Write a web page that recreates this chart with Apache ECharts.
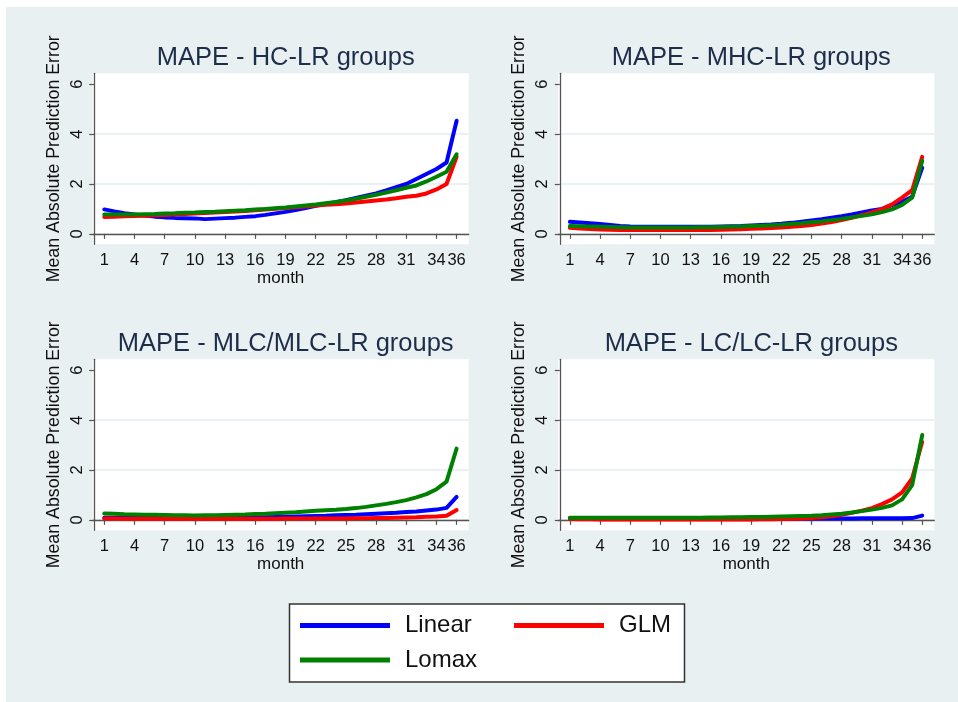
<!DOCTYPE html>
<html>
<head>
<meta charset="utf-8">
<script src="https://cdn.jsdelivr.net/npm/echarts@6/dist/echarts.min.js"></script>
<style>html,body{margin:0;padding:0;background:#fff;}#c{width:958px;height:702px;}</style>
</head>
<body>
<div id="c"></div>
<script>
var months = [1,2,3,4,5,6,7,8,9,10,11,12,13,14,15,16,17,18,19,20,21,22,23,24,25,26,27,28,29,30,31,32,33,34,35,36];
var xTickLabels = [1,4,7,10,13,16,19,22,25,28,31,34,36];
var yTickLabels = [0,2,4,6];
var yGridValues = [0,2,4];
var panelTitles = ['MAPE - HC-LR groups','MAPE - MHC-LR groups','MAPE - MLC/MLC-LR groups','MAPE - LC/LC-LR groups'];
var seriesNames = ['Linear','GLM','Lomax'];

var hcLinear = [0.98,0.90,0.83,0.78,0.73,0.69,0.66,0.64,0.63,0.62,0.59,0.61,0.63,0.65,0.68,0.71,0.76,0.82,0.88,0.95,1.03,1.12,1.20,1.27,1.35,1.44,1.53,1.62,1.74,1.87,2.00,2.20,2.40,2.60,2.86,4.54];
var hcGLM    = [0.68,0.69,0.71,0.72,0.73,0.75,0.76,0.78,0.80,0.82,0.84,0.86,0.88,0.90,0.92,0.95,0.98,1.01,1.04,1.07,1.10,1.14,1.17,1.19,1.22,1.26,1.30,1.34,1.38,1.43,1.49,1.53,1.62,1.78,2.00,3.09];
var hcLomax  = [0.78,0.78,0.78,0.78,0.79,0.80,0.82,0.83,0.85,0.86,0.88,0.89,0.91,0.93,0.95,0.98,1.00,1.03,1.06,1.10,1.14,1.18,1.23,1.28,1.34,1.41,1.49,1.57,1.66,1.75,1.85,1.94,2.10,2.29,2.49,3.19];

var mhcLinear = [0.48,0.45,0.42,0.39,0.35,0.31,0.29,0.28,0.28,0.28,0.28,0.28,0.28,0.28,0.28,0.29,0.30,0.31,0.33,0.35,0.37,0.40,0.44,0.49,0.54,0.59,0.65,0.71,0.78,0.86,0.94,1.00,1.15,1.29,1.49,2.66];
var mhcGLM    = [0.24,0.21,0.19,0.17,0.16,0.15,0.15,0.15,0.15,0.15,0.15,0.15,0.15,0.15,0.15,0.16,0.17,0.18,0.20,0.21,0.23,0.25,0.28,0.31,0.35,0.41,0.47,0.55,0.64,0.75,0.86,0.99,1.18,1.45,1.75,3.09];
var mhcLomax  = [0.31,0.30,0.29,0.28,0.27,0.26,0.25,0.25,0.25,0.25,0.25,0.25,0.25,0.26,0.26,0.27,0.28,0.29,0.31,0.32,0.34,0.36,0.39,0.42,0.46,0.50,0.55,0.60,0.66,0.72,0.78,0.87,0.98,1.16,1.45,2.93];

var mlcLinear = [0.08,0.08,0.07,0.07,0.07,0.07,0.07,0.07,0.07,0.07,0.07,0.08,0.08,0.08,0.09,0.09,0.10,0.11,0.12,0.13,0.14,0.15,0.16,0.18,0.19,0.20,0.22,0.24,0.26,0.28,0.31,0.33,0.37,0.41,0.48,0.92];
var mlcGLM    = [0.05,0.05,0.04,0.04,0.04,0.04,0.04,0.04,0.04,0.04,0.04,0.04,0.04,0.04,0.04,0.04,0.04,0.04,0.05,0.05,0.05,0.05,0.05,0.05,0.05,0.06,0.06,0.07,0.07,0.08,0.09,0.10,0.12,0.13,0.16,0.39];
var mlcLomax  = [0.25,0.24,0.22,0.21,0.20,0.20,0.19,0.18,0.18,0.17,0.18,0.18,0.19,0.20,0.21,0.23,0.24,0.26,0.28,0.30,0.33,0.36,0.38,0.40,0.43,0.47,0.52,0.58,0.64,0.71,0.79,0.90,1.03,1.23,1.53,2.86];

var lcLinear = [0.06,0.06,0.05,0.05,0.05,0.05,0.05,0.05,0.05,0.05,0.05,0.05,0.05,0.05,0.05,0.05,0.05,0.05,0.05,0.05,0.05,0.05,0.05,0.05,0.05,0.05,0.05,0.05,0.05,0.06,0.06,0.06,0.06,0.06,0.07,0.17];
var lcGLM    = [0.03,0.02,0.02,0.01,0.01,0.01,0.01,0.01,0.01,0.01,0.01,0.01,0.01,0.01,0.01,0.01,0.01,0.01,0.01,0.02,0.02,0.03,0.04,0.05,0.07,0.10,0.14,0.20,0.28,0.37,0.47,0.63,0.82,1.10,1.66,3.13];
var lcLomax  = [0.08,0.08,0.08,0.08,0.08,0.08,0.08,0.08,0.08,0.08,0.08,0.08,0.08,0.08,0.09,0.09,0.10,0.10,0.11,0.11,0.12,0.13,0.14,0.15,0.16,0.18,0.21,0.24,0.29,0.35,0.41,0.48,0.58,0.82,1.39,3.40];

var panels = [
  [hcLinear, hcGLM, hcLomax],
  [mhcLinear, mhcGLM, mhcLomax],
  [mlcLinear, mlcGLM, mlcLomax],
  [lcLinear, lcGLM, lcLomax]
];

var colors = ['#0000ff','#ff0000','#008000'];
var FONT = 'Liberation Sans, Arial, sans-serif';
var gridPos = [
  {left: 92.7, top: 73.3},
  {left: 558.3, top: 73.3},
  {left: 92.7, top: 359.3},
  {left: 558.3, top: 359.3}
];
var GW = 376, GH = 171;

var grids = [], xAxes = [], yAxes = [], series = [], titles = [];
gridPos.forEach(function (p, i) {
  grids.push({left: p.left, top: p.top, width: GW, height: GH, show: true,
    backgroundColor: '#ffffff', borderWidth: 0, containLabel: false});
  titles.push({text: panelTitles[i], left: p.left + GW / 2, textAlign: 'center', top: p.top - 33,
    textStyle: {fontFamily: FONT, fontSize: 25.5, fontWeight: 'normal', color: '#1e2d4a'}});
  xAxes.push({type: 'value', gridIndex: i, min: -0.15, max: 37.2,
    name: 'month', nameLocation: 'middle', nameGap: 26,
    nameTextStyle: {fontFamily: FONT, fontSize: 17, color: '#111'},
    axisLine: {show: true, lineStyle: {color: '#555', width: 1.3}},
    axisTick: {show: true, length: 5, customValues: xTickLabels, lineStyle: {color: '#555', width: 1.2}},
    axisLabel: {customValues: xTickLabels, margin: 8, fontFamily: FONT, fontSize: 16.5, color: '#111'},
    splitLine: {show: false}});
  yAxes.push({type: 'value', gridIndex: i, min: -0.42, max: 6.44, position: 'left',
    name: 'Mean Absolute Prediction Error', nameLocation: 'middle', nameGap: 30,
    nameTextStyle: {fontFamily: FONT, fontSize: 17.8, color: '#111'},
    axisLine: {show: true, lineStyle: {color: '#555', width: 1.3}},
    axisTick: {show: true, length: 5, customValues: yTickLabels, lineStyle: {color: '#555', width: 1.2}},
    axisLabel: {customValues: yTickLabels, rotate: 90, margin: 7, fontFamily: FONT, fontSize: 16.5, color: '#111'},
    splitLine: {show: false}});
  yAxes.push({type: 'value', gridIndex: i, min: -0.42, max: 6.44, position: 'right',
    axisLine: {show: false}, axisLabel: {show: false},
    axisTick: {show: false, customValues: yGridValues},
    splitLine: {show: true, lineStyle: {color: '#e3edf2', width: 1.6}}});
  panels[i].forEach(function (vals, k) {
    series.push({type: 'line', name: seriesNames[k], xAxisIndex: i, yAxisIndex: i * 2,
      data: months.map(function (m, j) { return [m, vals[j]]; }),
      symbol: 'none', showSymbol: false, smooth: false,
      lineStyle: {color: colors[k], width: 4, join: 'round', cap: 'round'},
      itemStyle: {color: colors[k]}, z: 2 + k});
  });
});

var legendText = {fontFamily: FONT, fontSize: 24, color: '#111', lineHeight: 24, padding: [0, 0, 0, 10]};
function mkLegend(name, left, top) {
  return {data: [name], left: left, top: top, padding: 0, itemWidth: 90, itemHeight: 5,
    icon: 'rect', selectedMode: false, textStyle: legendText, z: 10};
}

var option = {
  animation: false,
  backgroundColor: '#ffffff',
  textStyle: {fontFamily: FONT},
  title: titles,
  grid: grids,
  xAxis: xAxes,
  yAxis: yAxes,
  series: series,
  legend: [mkLegend('Linear', 300, 613.5), mkLegend('GLM', 514, 613.5), mkLegend('Lomax', 300, 648)],
  graphic: [
    {type: 'rect', shape: {x: 6, y: 7, width: 952, height: 695}, style: {fill: '#e9f0f2'}, z: -10, silent: true},
    {type: 'rect', shape: {x: 289.5, y: 604, width: 395, height: 78}, style: {fill: '#ffffff', stroke: '#333', lineWidth: 1.5}, z: -5, silent: true}
  ]
};

var chart = echarts.init(document.getElementById('c'), null, {renderer: 'canvas'});
chart.setOption(option);
</script>
</body>
</html>
